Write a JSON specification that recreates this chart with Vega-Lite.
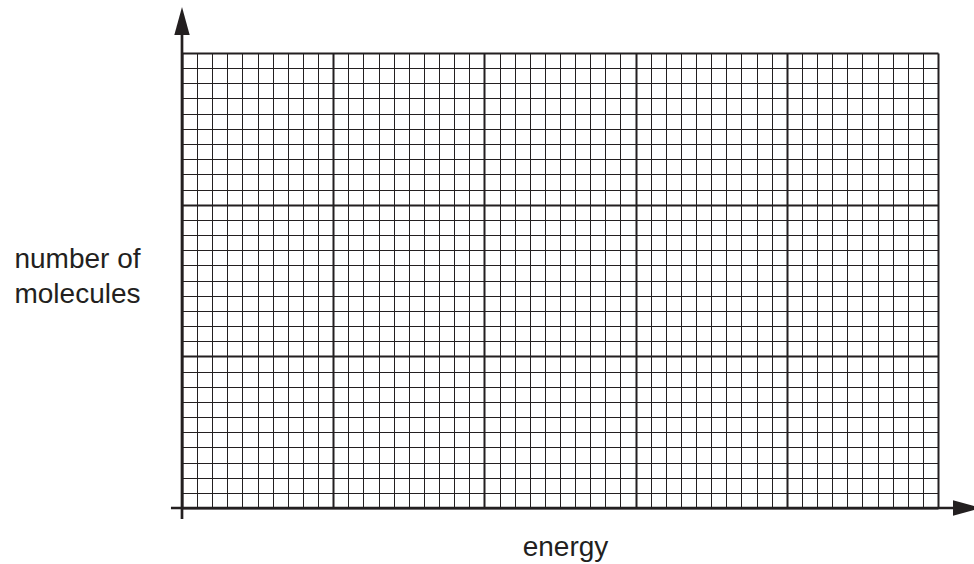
{
  "$schema": "https://vega.github.io/schema/vega-lite/v6.json",
  "autosize": "none",
  "width": 756,
  "height": 455,
  "padding": {"left": 182, "top": 53, "right": 36, "bottom": 56},
  "background": "white",
  "config": {
    "view": {"stroke": null},
    "axis": {"domain": false, "ticks": false, "labels": false, "gridColor": "#231f20", "gridOpacity": 1},
    "font": "Liberation Sans"
  },
  "data": {"values": [{"chart": "energy distribution grid"}]},
  "layer": [
    {
      "mark": {"type": "rule", "color": "#231f20", "strokeWidth": 2.7},
      "encoding": {
        "x": {
          "datum": 0, "type": "quantitative",
          "scale": {"domain": [0, 50], "nice": false, "zero": false},
          "axis": {
            "values": [0,1,2,3,4,5,6,7,8,9,10,11,12,13,14,15,16,17,18,19,20,21,22,23,24,25,26,27,28,29,30,31,32,33,34,35,36,37,38,39,40,41,42,43,44,45,46,47,48,49,50],
            "grid": true,
            "gridWidth": {"condition": {"test": "datum.value % 10 === 0", "value": 2}, "value": 1},
            "title": "energy", "titleFont": "Liberation Sans", "titleFontSize": 28, "titleFontWeight": "normal", "titleColor": "#231f20",
            "titleAlign": "center", "titleBaseline": "alphabetic", "titleX": 383, "titleY": 47
          }
        },
        "y": {
          "datum": -0.73, "type": "quantitative",
          "scale": {"domain": [0, 30], "nice": false, "zero": false},
          "axis": {
            "values": [0,1,2,3,4,5,6,7,8,9,10,11,12,13,14,15,16,17,18,19,20,21,22,23,24,25,26,27,28,29,30],
            "grid": true,
            "gridWidth": {"condition": {"test": "datum.value % 10 === 0", "value": 2}, "value": 1},
            "title": ["number of", "molecules"], "titleFont": "Liberation Sans", "titleFontSize": 28, "titleFontWeight": "normal", "titleColor": "#231f20",
            "titleAngle": 0, "titleAlign": "center", "titleBaseline": "alphabetic", "titleLineHeight": 35, "titleX": -105, "titleY": 214
          }
        },
        "y2": {"datum": 31.5}
      }
    },
    {
      "mark": {"type": "rule", "color": "#231f20", "strokeWidth": 2.7},
      "encoding": {
        "x": {
          "datum": -0.73, "type": "quantitative",
          "scale": {"domain": [0, 50], "nice": false, "zero": false},
          "axis": {
            "values": [0,1,2,3,4,5,6,7,8,9,10,11,12,13,14,15,16,17,18,19,20,21,22,23,24,25,26,27,28,29,30,31,32,33,34,35,36,37,38,39,40,41,42,43,44,45,46,47,48,49,50],
            "grid": true,
            "gridWidth": {"condition": {"test": "datum.value % 10 === 0", "value": 2}, "value": 1},
            "title": "energy", "titleFont": "Liberation Sans", "titleFontSize": 28, "titleFontWeight": "normal", "titleColor": "#231f20",
            "titleAlign": "center", "titleBaseline": "alphabetic", "titleX": 383, "titleY": 47
          }
        },
        "x2": {"datum": 51.3},
        "y": {
          "datum": 0, "type": "quantitative",
          "scale": {"domain": [0, 30], "nice": false, "zero": false},
          "axis": {
            "values": [0,1,2,3,4,5,6,7,8,9,10,11,12,13,14,15,16,17,18,19,20,21,22,23,24,25,26,27,28,29,30],
            "grid": true,
            "gridWidth": {"condition": {"test": "datum.value % 10 === 0", "value": 2}, "value": 1},
            "title": ["number of", "molecules"], "titleFont": "Liberation Sans", "titleFontSize": 28, "titleFontWeight": "normal", "titleColor": "#231f20",
            "titleAngle": 0, "titleAlign": "center", "titleBaseline": "alphabetic", "titleLineHeight": 35, "titleX": -105, "titleY": 214
          }
        }
      }
    },
    {
      "mark": {"type": "point", "filled": true, "color": "#231f20", "opacity": 1, "shape": "M-0.55,1L0,-1L0.55,1Z", "size": 784, "strokeWidth": 0},
      "encoding": {
        "x": {
          "datum": 0, "type": "quantitative",
          "scale": {"domain": [0, 50], "nice": false, "zero": false},
          "axis": {
            "values": [0,1,2,3,4,5,6,7,8,9,10,11,12,13,14,15,16,17,18,19,20,21,22,23,24,25,26,27,28,29,30,31,32,33,34,35,36,37,38,39,40,41,42,43,44,45,46,47,48,49,50],
            "grid": true,
            "gridWidth": {"condition": {"test": "datum.value % 10 === 0", "value": 2}, "value": 1},
            "title": "energy", "titleFont": "Liberation Sans", "titleFontSize": 28, "titleFontWeight": "normal", "titleColor": "#231f20",
            "titleAlign": "center", "titleBaseline": "alphabetic", "titleX": 383, "titleY": 47
          }
        },
        "y": {
          "datum": 32.11, "type": "quantitative",
          "scale": {"domain": [0, 30], "nice": false, "zero": false},
          "axis": {
            "values": [0,1,2,3,4,5,6,7,8,9,10,11,12,13,14,15,16,17,18,19,20,21,22,23,24,25,26,27,28,29,30],
            "grid": true,
            "gridWidth": {"condition": {"test": "datum.value % 10 === 0", "value": 2}, "value": 1},
            "title": ["number of", "molecules"], "titleFont": "Liberation Sans", "titleFontSize": 28, "titleFontWeight": "normal", "titleColor": "#231f20",
            "titleAngle": 0, "titleAlign": "center", "titleBaseline": "alphabetic", "titleLineHeight": 35, "titleX": -105, "titleY": 214
          }
        }
      }
    },
    {
      "mark": {"type": "point", "filled": true, "color": "#231f20", "opacity": 1, "shape": "M-0.55,1L0,-1L0.55,1Z", "size": 784, "strokeWidth": 0, "angle": 90},
      "encoding": {
        "x": {
          "datum": 51.92, "type": "quantitative",
          "scale": {"domain": [0, 50], "nice": false, "zero": false},
          "axis": {
            "values": [0,1,2,3,4,5,6,7,8,9,10,11,12,13,14,15,16,17,18,19,20,21,22,23,24,25,26,27,28,29,30,31,32,33,34,35,36,37,38,39,40,41,42,43,44,45,46,47,48,49,50],
            "grid": true,
            "gridWidth": {"condition": {"test": "datum.value % 10 === 0", "value": 2}, "value": 1},
            "title": "energy", "titleFont": "Liberation Sans", "titleFontSize": 28, "titleFontWeight": "normal", "titleColor": "#231f20",
            "titleAlign": "center", "titleBaseline": "alphabetic", "titleX": 383, "titleY": 47
          }
        },
        "y": {
          "datum": 0, "type": "quantitative",
          "scale": {"domain": [0, 30], "nice": false, "zero": false},
          "axis": {
            "values": [0,1,2,3,4,5,6,7,8,9,10,11,12,13,14,15,16,17,18,19,20,21,22,23,24,25,26,27,28,29,30],
            "grid": true,
            "gridWidth": {"condition": {"test": "datum.value % 10 === 0", "value": 2}, "value": 1},
            "title": ["number of", "molecules"], "titleFont": "Liberation Sans", "titleFontSize": 28, "titleFontWeight": "normal", "titleColor": "#231f20",
            "titleAngle": 0, "titleAlign": "center", "titleBaseline": "alphabetic", "titleLineHeight": 35, "titleX": -105, "titleY": 214
          }
        }
      }
    }
  ]
}
